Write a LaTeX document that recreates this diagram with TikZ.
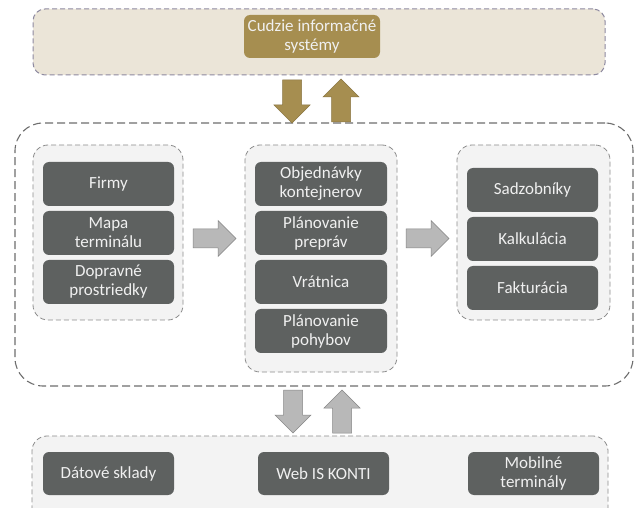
\documentclass[tikz,border=0pt]{standalone}
\usepackage{fontspec}
\setmainfont{Carlito}

\definecolor{boxgray}{HTML}{5E6160}
\definecolor{gold}{HTML}{A68E50}
\definecolor{golddark}{HTML}{8A7642}
\definecolor{beige}{HTML}{EBE5D8}
\definecolor{groupfill}{HTML}{F3F3F3}
\definecolor{dashgray}{HTML}{8C8C8C}
\definecolor{dashpurple}{HTML}{8E8AA0}

\tikzset{
  item/.style={fill=boxgray, rounded corners=6pt, text=white!94!black, align=center,
    minimum width=131pt, minimum height=44pt, inner sep=2pt,
    font=\fontsize{17}{19}\selectfont},
  group/.style={draw=dashgray, fill=groupfill, line width=0.8pt,
    dash pattern=on 5pt off 3pt, rounded corners=15pt},
  blockarr/.pic={\draw[pic actions] (0,-9.5) -- (25,-9.5) -- (25,-18) -- (43,0)
    -- (25,18) -- (25,9.5) -- (0,9.5) -- cycle;},
  goldarr/.style={fill=gold, draw=golddark, line width=0.5pt},
  grayarr/.style={fill=black!28, draw=black!47, line width=0.5pt}
}

\begin{document}
\begin{tikzpicture}[x=1pt,y=-1pt]
\clip (0,0) rectangle (641,508);
\fill[white] (0,0) rectangle (641,508);

% outer frames
\node[draw=dashpurple, fill=beige, line width=1pt, dash pattern=on 5pt off 3pt,
  rounded corners=12pt, minimum width=572pt, minimum height=66pt] (extframe) at (319,42) {};
\node[draw=black!57, line width=1.1pt, dash pattern=on 8pt off 4pt,
  rounded corners=28pt, minimum width=618pt, minimum height=263pt] (core) at (324,254.5) {};
\node[group, minimum width=576pt, minimum height=94pt] (base) at (320,483) {};

% groups inside the core
\node[group, minimum width=150pt, minimum height=175pt] (left) at (108,232.5) {};
\node[group, minimum width=152pt, minimum height=227pt] (mid) at (321,258.5) {};
\node[group, minimum width=153pt, minimum height=175pt] (right) at (533.5,232.5) {};

% foreign systems
\node[item, fill=gold, minimum width=136pt, minimum height=43pt] (cudzie) at (312,36.5)
  {Cudzie informačné\\systémy};

% left column
\node[item] (firmy) at (108.5,184) {Firmy};
\node[item] (mapa) at (108.5,233) {Mapa\\terminálu};
\node[item] (doprava) at (108.5,282) {Dopravné\\prostriedky};

% middle column
\node[item, minimum width=132pt] (objed) at (321,184) {Objednávky\\kontejnerov};
\node[item, minimum width=132pt] (prepravy) at (321,233) {Plánovanie\\prepráv};
\node[item, minimum width=132pt] (vratnica) at (321,282) {Vrátnica};
\node[item, minimum width=132pt] (pohyby) at (321,331) {Plánovanie\\pohybov};

% right column
\node[item] (sadzby) at (532.5,190) {Sadzobníky};
\node[item] (kalk) at (532.5,239) {Kalkulácia};
\node[item] (fakt) at (532.5,288) {Fakturácia};

% bottom row
\node[item, minimum height=43pt] (sklady) at (108.5,473.5) {Dátové sklady};
\node[item, minimum height=43pt] (web) at (323.5,473.5) {Web IS KONTI};
\node[item, minimum height=43pt] (mobil) at (533.5,473.5) {Mobilné\\terminály};

% block arrows
\pic[goldarr, rotate=-90] at (292,80) {blockarr};
\pic[goldarr, rotate=90] at (341,122) {blockarr};
\pic[grayarr] at (193,238.5) {blockarr};
\pic[grayarr] at (406,238.5) {blockarr};
\pic[grayarr, rotate=-90] at (293,390) {blockarr};
\pic[grayarr, rotate=90] at (342,433) {blockarr};
\end{tikzpicture}
\end{document}
